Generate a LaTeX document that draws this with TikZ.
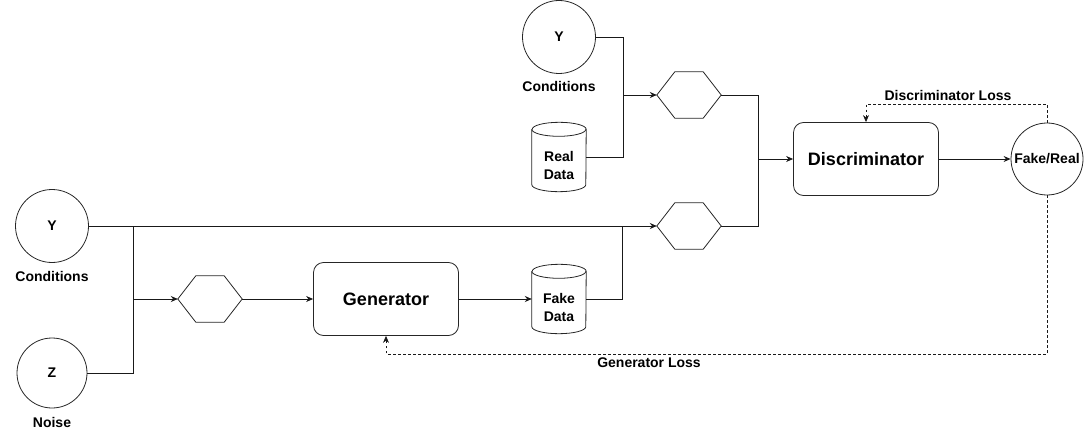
\documentclass[tikz,border=0pt]{standalone}
\usepackage{fontspec}
\setmainfont{Liberation Sans}
\usetikzlibrary{arrows.meta}
\begin{document}
\begin{tikzpicture}[x=1pt,y=-1pt,
  every node/.style={font=\bfseries},
  shp/.style={draw=black!85, line width=0.8pt},
  circ/.style={shp, circle, minimum size=73pt, inner sep=0pt, font=\bfseries\fontsize{14}{16}\selectfont},
  lbl/.style={font=\bfseries\fontsize{14}{16}\selectfont, inner sep=0pt},
  box/.style={shp, rectangle, rounded corners=10pt, minimum width=145pt, minimum height=73pt, font=\bfseries\fontsize{18}{20}\selectfont},
  hexnode/.style={rectangle, minimum width=64pt, minimum height=46pt, inner sep=0pt},
  cylnode/.style={rectangle, minimum width=54pt, minimum height=69pt, inner sep=0pt},
  cyltext/.style={label={[yshift=-8pt, align=center, inner sep=0pt, font=\bfseries\fontsize{14}{18}\selectfont]center:#1}},
  conn/.style={line width=0.8pt, draw=black!90},
  arr/.style={conn, -{Stealth[length=7pt,width=6pt]}},
  dsh/.style={arr, dash pattern=on 2.5pt off 2.5pt}
]
\useasboundingbox (0,0) rectangle (1084,433);
\newcommand\hexdraw[1]{%
  \draw[shp] (#1.west) -- ([xshift=18pt]#1.north west) -- ([xshift=-18pt]#1.north east) -- (#1.east)
    -- ([xshift=-18pt]#1.south east) -- ([xshift=18pt]#1.south west) -- cycle;}
\newcommand\cyldraw[1]{%
  \draw[shp] ([yshift=-7pt]#1.north west) -- ([yshift=7pt]#1.south west)
    arc[start angle=180, end angle=360, x radius=27pt, y radius=7pt]
    -- ([yshift=-7pt]#1.north east)
    arc[start angle=0, end angle=180, x radius=27pt, y radius=7pt];
  \draw[shp] ([yshift=-7pt]#1.north west) arc[start angle=180, end angle=360, x radius=27pt, y radius=7pt];}

% nodes
\node[circ] (ytop) at (559,37) {Y};
\node[lbl] (ctop) at (559,86) {Conditions};
\node[cylnode, cyltext={Real\\Data}] (rd) at (559,157) {};
\cyldraw{rd}
\node[hexnode] (hex1) at (689,95) {};
\hexdraw{hex1}
\node[hexnode] (hex2) at (689,226) {};
\hexdraw{hex2}
\node[box] (disc) at (866,159) {Discriminator};
\node[circ, minimum size=72pt] (fr) at (1047,159) {Fake/Real};
\node[lbl] (dloss) at (948,95) {Discriminator Loss};

\node[circ] (yl) at (52,226) {Y};
\node[lbl] (cl) at (52,276) {Conditions};
\node[circ, minimum size=70pt] (zl) at (52,373) {Z};
\node[lbl] (noise) at (52,422) {Noise};
\node[hexnode] (hex3) at (210,299) {};
\hexdraw{hex3}
\node[box] (gen) at (386,299) {Generator};
\node[cylnode, cyltext={Fake\\Data}] (fd) at (559,299) {};
\cyldraw{fd}
\node[lbl] (gloss) at (649,363) {Generator Loss};

% junctions
\coordinate (j1) at (623,95);
\coordinate (j2) at (758,159);
\coordinate (j3) at (133,226);
\coordinate (j4) at (133,299);
\coordinate (j5) at (622,226);

% connectors
\draw[conn] (ytop.east) -| (j1);
\draw[conn] (rd.east) -| (j1);
\draw[arr] (j1) -- (hex1.west);
\draw[conn] (hex1.east) -| (j2);
\draw[conn] (hex2.east) -| (j2);
\draw[arr] (j2) -- (disc.west);
\draw[arr] (disc.east) -- (fr.west);
\draw[dsh] (fr.north) |- ([yshift=18pt]disc.north) -- (disc.north);

\draw[arr] (yl.east) -- (hex2.west);
\draw[conn] (zl.east) -| (j3);
\draw[arr] (j4) -- (hex3.west);
\draw[arr] (hex3.east) -- (gen.west);
\draw[arr] (gen.east) -- (fd.west);
\draw[conn] (fd.east) -| (j5);
\draw[dsh] (fr.south) |- ([yshift=-18pt]gen.south) -- (gen.south);
\end{tikzpicture}
\end{document}
